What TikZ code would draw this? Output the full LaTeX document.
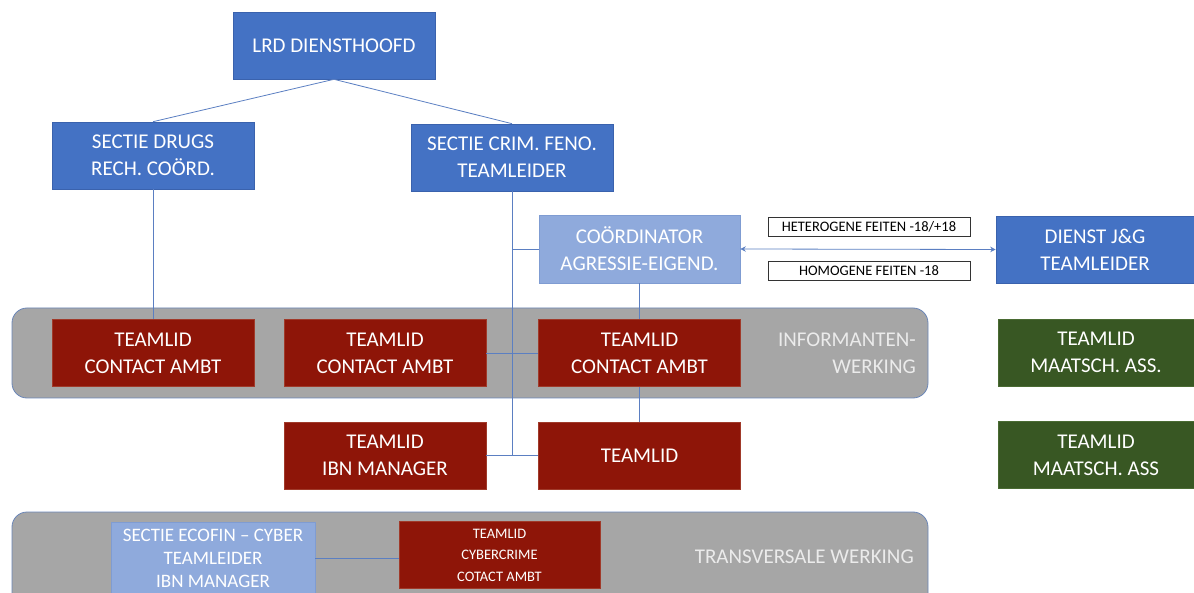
\documentclass[tikz,border=0pt]{standalone}
\usepackage{fontspec}
\setmainfont{Carlito}
\usetikzlibrary{arrows.meta}
\definecolor{cblue}{HTML}{4472C4}
\definecolor{cblueb}{HTML}{3A62AD}
\definecolor{clight}{HTML}{8FAADC}
\definecolor{clightb}{HTML}{7F9CD2}
\definecolor{cred}{HTML}{8E1508}
\definecolor{credb}{HTML}{A03A2A}
\definecolor{cgreen}{HTML}{385723}
\definecolor{cgreenb}{HTML}{4A6B33}
\definecolor{cpanel}{HTML}{A6A6A6}
\definecolor{cpanelb}{HTML}{6A86B8}
\definecolor{cline}{HTML}{5B7FC2}
\definecolor{cpaneltext}{HTML}{EBEBEB}
\begin{document}
\begin{tikzpicture}[x=1pt,y=-1pt,
  box/.style={rectangle, inner sep=2pt, align=center, text=white,
    font=\fontsize{21}{27}\selectfont, minimum width=202pt, minimum height=67pt, line width=0.6pt},
  bluebox/.style={box, fill=cblue, draw=cblueb},
  lightbox/.style={box, fill=clight, draw=clightb},
  redbox/.style={box, fill=cred, draw=credb},
  greenbox/.style={box, fill=cgreen, draw=cgreenb},
  labelbox/.style={rectangle, draw=black!80, fill=white, line width=0.5pt, inner sep=0pt,
    minimum width=202pt, minimum height=19pt, font=\fontsize{14.5}{16}\selectfont, text=black},
  panel/.style={fill=cpanel, draw=cpanelb, line width=0.8pt, rounded corners=15pt},
  paneltext/.style={text=cpaneltext, align=right, anchor=east, inner sep=0pt,
    font=\fontsize{21}{27}\selectfont},
  conn/.style={draw=cline, line width=0.8pt},
  dbl/.style={conn, {Stealth[length=5.5pt,width=5.5pt]}-{Stealth[length=5.5pt,width=5.5pt]}}
]
\clip (0,0) rectangle (1194,593);

% panels
\path[panel] (12,308) rectangle (928,398);
\path[panel] (12,512) rectangle (928,620);

% top
\node[bluebox] (lrd) at (334,45.5) {LRD DIENSTHOOFD};
\node[bluebox] (drugs) at (153,155.5) {SECTIE DRUGS\\RECH. CO\"ORD.};
\node[bluebox] (crim) at (512,157.5) {SECTIE CRIM. FENO.\\TEAMLEIDER};
\node[lightbox, minimum width=201pt, minimum height=68pt] (coord) at (639.5,249) {CO\"ORDINATOR\\AGRESSIE-EIGEND.};
\node[bluebox, minimum width=198pt] (dienst) at (1095,249.5) {DIENST J\&G\\TEAMLEIDER};
\node[labelbox] (het) at (869,226.5) {HETEROGENE FEITEN -18/+18};
\node[labelbox] (hom) at (869,271) {HOMOGENE FEITEN -18};

% informantenwerking row
\node[redbox] (t1) at (153,353) {TEAMLID\\CONTACT AMBT};
\node[redbox] (t2) at (385,353) {TEAMLID\\CONTACT AMBT};
\node[redbox] (t3) at (639.5,353) {TEAMLID\\CONTACT AMBT};
\node[paneltext] (inf) at (916,353) {INFORMANTEN-\\WERKING};
\node[greenbox, minimum width=196pt] (g1) at (1096,352.5) {TEAMLID\\MAATSCH. ASS.};

% second row
\node[redbox] (tibn) at (385,455.5) {TEAMLID\\IBN MANAGER};
\node[redbox] (tteam) at (639.5,455.5) {TEAMLID};
\node[greenbox, minimum width=196pt] (g2) at (1096,455) {TEAMLID\\MAATSCH. ASS};

% transversale werking
\node[lightbox, minimum width=204pt, minimum height=72pt, font=\fontsize{19}{23}\selectfont] (eco) at (213,558)
  {SECTIE ECOFIN -- CYBER\\TEAMLEIDER\\IBN MANAGER};
\node[redbox, minimum width=201pt, minimum height=67pt, font=\fontsize{14.5}{21.5}\selectfont] (cyb) at (499.5,555)
  {TEAMLID\\CYBERCRIME\\COTACT AMBT};
\node[paneltext] (trans) at (914,557) {TRANSVERSALE WERKING};

% connectors
\coordinate (jtop) at (lrd.south);
\draw[conn] (jtop) -- (drugs.north);
\draw[conn] (jtop) -- (crim.north);
\draw[conn] (drugs.south) -- (t1.north);
\coordinate (jbot) at (crim.south |- tteam.west);
\coordinate (jco) at (crim.south |- coord.west);
\draw[conn] (crim.south) -- (jbot);
\draw[conn] (jco) -- (coord.west);
\draw[conn] (t2.east) -- (t3.west);
\draw[conn] (tibn.east) -- (tteam.west);
\draw[conn] (coord.south) -- (t3.north);
\draw[conn] (t3.south) -- (tteam.north);
\draw[dbl] (coord.east) -- (dienst.west);
\coordinate (ecoend) at (eco.east -| cyb.west);
\draw[conn] (eco.east) -- (ecoend);
\end{tikzpicture}
\end{document}
